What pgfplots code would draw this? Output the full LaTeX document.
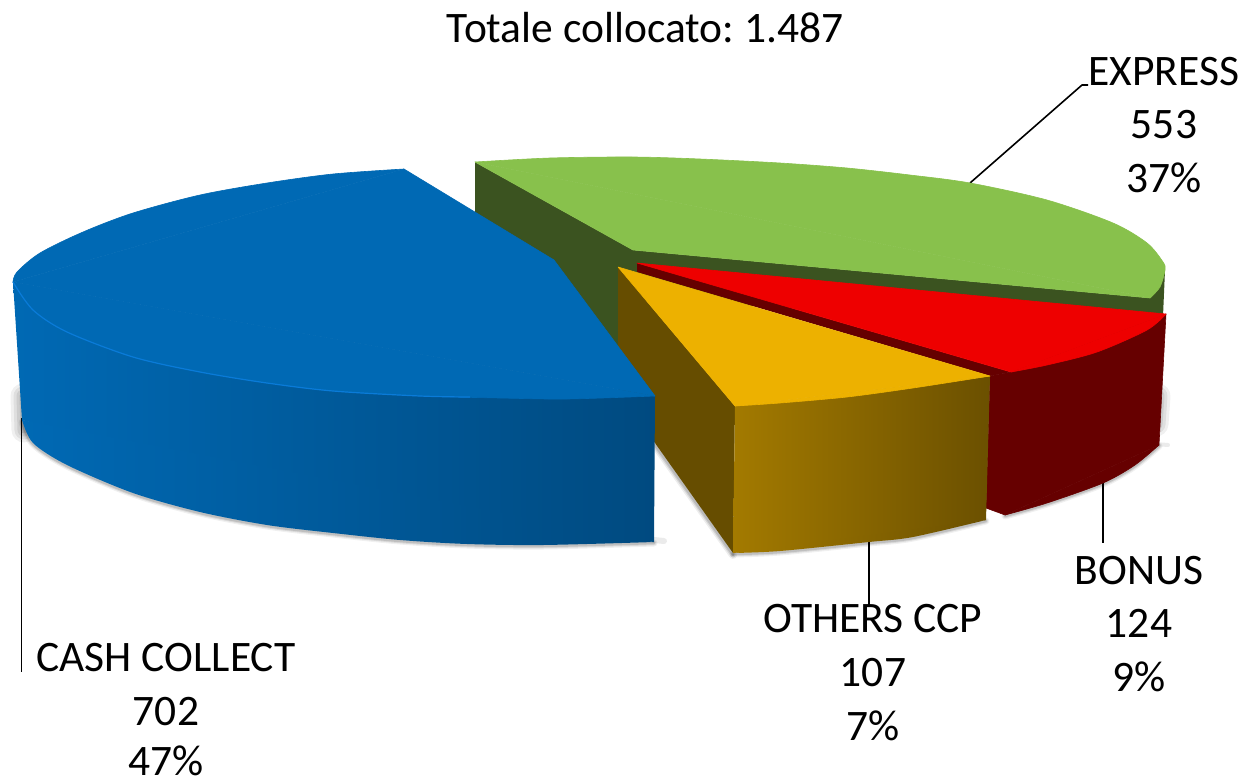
\documentclass[border=0pt]{standalone}
\usepackage{fontspec}
\setmainfont{Carlito}
\usepackage{pgfplots}
\usepackage{pgfplotstable}
\pgfplotsset{compat=1.18}
\frenchspacing
\definecolor{bluetop}{HTML}{0069B4}
\definecolor{bluemid}{HTML}{005FA5}
\definecolor{blueend}{HTML}{004A80}
\definecolor{bluehi}{HTML}{0A7BD8}
\definecolor{greentop}{HTML}{88C14C}
\definecolor{greenwall}{HTML}{3B5320}
\definecolor{redtop}{HTML}{EE0000}
\definecolor{redwall}{HTML}{660000}
\definecolor{yellowtop}{HTML}{EDB100}
\definecolor{yellowwall}{HTML}{664D00}
\definecolor{yellowfront}{HTML}{A37A00}
\definecolor{yellowend}{HTML}{6B5000}
\pgfplotstableread{
x y
22 422
33 444
67 466
133 494
200 513
267 526
333 534
400 541
467 545
543 546
654 543
}\blueshadow
\pgfplotstableread{
x y
733 554
780 552
869 543
913 538
986 521
}\yellowshadow
\pgfplotstableread{
x y
1005 516
1047 504
1103 484
1135 466
1159 446
}\redshadow
\pgfplotstableread{
x y
655 445
733 555
}\wedgeshadow
\pgfplotstableread{
x y
23 396
24 430
}\leftblob
\pgfplotstableread{
x y
1158 396
1156 424
}\rightblob
\pgfplotstableread{
x y
654 540
664 541
}\bluespur
\pgfplotstableread{
x y
1155 444
1168 445
}\redspur
\begin{document}
\begin{tikzpicture}
\begin{axis}[
  scale only axis, width=1243pt, height=782pt,
  xmin=0, xmax=1243, ymin=0, ymax=782, y dir=reverse,
  hide axis, clip=false, no markers,
  every axis plot/.append style={line join=round},
  nodes={font=\fontsize{43.5}{50}\selectfont, text=black, inner sep=0pt}
]
% page area
\addplot[fill=white, draw=none] coordinates {(0,0) (1243,0) (1243,782) (0,782)} --cycle;
% soft shadows
\addplot[black, opacity=0.06, line width=25pt, line cap=round] table {\leftblob};
\addplot[black, opacity=0.07, line width=19pt, line cap=round] table {\leftblob};
\addplot[black, opacity=0.08, line width=13pt, line cap=round] table {\leftblob};
\addplot[black, opacity=0.10, line width=7pt, line cap=round] table {\leftblob};
\addplot[black, opacity=0.06, line width=25pt, line cap=round] table {\rightblob};
\addplot[black, opacity=0.07, line width=19pt, line cap=round] table {\rightblob};
\addplot[black, opacity=0.08, line width=13pt, line cap=round] table {\rightblob};
\addplot[smooth, black, opacity=0.06, line width=7pt, line cap=round] table {\blueshadow};
\addplot[smooth, black, opacity=0.09, line width=4.5pt, line cap=round] table {\blueshadow};
\addplot[smooth, black, opacity=0.12, line width=2.5pt, line cap=round] table {\blueshadow};
\addplot[smooth, black, opacity=0.06, line width=7pt, line cap=round] table {\yellowshadow};
\addplot[smooth, black, opacity=0.09, line width=4.5pt, line cap=round] table {\yellowshadow};
\addplot[smooth, black, opacity=0.12, line width=2.5pt, line cap=round] table {\yellowshadow};
\addplot[smooth, black, opacity=0.06, line width=7pt, line cap=round] table {\redshadow};
\addplot[smooth, black, opacity=0.09, line width=4.5pt, line cap=round] table {\redshadow};
\addplot[smooth, black, opacity=0.12, line width=2.5pt, line cap=round] table {\redshadow};
\addplot[black, opacity=0.07, line width=8pt, line cap=round] table {\wedgeshadow};
\addplot[black, opacity=0.10, line width=5pt, line cap=round] table {\wedgeshadow};
\addplot[black, opacity=0.12, line width=2.5pt, line cap=round] table {\wedgeshadow};
\addplot[black, opacity=0.08, line width=6pt, line cap=round] table {\bluespur};
\addplot[black, opacity=0.08, line width=4pt, line cap=round] table {\redspur};
% leader lines
\addplot[black, line width=1.6pt] coordinates {(970,183) (1082,85) (1088,85)};
\addplot[black, line width=1.6pt] coordinates {(1103,483) (1103,543)};
\addplot[black, line width=1.6pt] coordinates {(869,540) (869,606)};
\addplot[black, line width=1.6pt] coordinates {(21.5,418) (21.5,672)};
% green walls
\addplot[fill=greenwall, draw=none] coordinates {
 (475,162) (475,220) (560,290) (620,350) (640,300) (1010,320) (1163,316) (1165,270) (1150,298) (633,250)} --cycle;
% green top
\addplot[fill=greentop, draw=greentop, line width=0.6pt] coordinates {(475,162) (1150,298) (633,250)} --cycle;
\addplot[smooth, fill=greentop, draw=greentop, line width=0.6pt] coordinates {
 (475,162) (550,158) (633,157) (700,159) (780,163) (847,168) (910,175) (970,183) (1047,200)
 (1113,223) (1147,243) (1163,262) (1165,270) (1160,287) (1150,298)};
% red outer wall
\addplot[fill=redwall, draw=redwall, line width=0.6pt] coordinates {
 (1166,314) (1011,372) (990,376) (986,508) (1005,515) (1159,445)} --cycle;
\addplot[smooth, fill=redwall, draw=redwall, line width=0.6pt] coordinates {
 (1005,515) (1047,503) (1103,483) (1135,465) (1159,445)};
% red inner strip
\addplot[fill=redwall, draw=none] coordinates {
 (637,263) (1011,372) (990,376) (637,272)} --cycle;
% red top
\addplot[fill=redtop, draw=redtop, line width=0.6pt] coordinates {(637,263) (1166,314) (1011,372)} --cycle;
\addplot[smooth, fill=redtop, draw=redtop, line width=0.6pt] coordinates {
 (1166,314) (1147,330) (1097,352) (1047,365) (1011,372)};
% yellow left wall
\addplot[fill=yellowwall, draw=none] coordinates {
 (618,267) (735,406) (733,553) (655,443) (618,395)} --cycle;
% yellow front wall
\addplot[shade, shading=axis, left color=yellowfront, right color=yellowend, draw=none] coordinates {
 (735,406) (990,376) (986,520) (860,541) (733,553)} --cycle;
\addplot[smooth, shade, shading=axis, left color=yellowfront, right color=yellowend, draw=none] coordinates {
 (733,553) (780,551) (869,542) (913,537) (986,520)};
% yellow top
\addplot[fill=yellowtop, draw=yellowtop, line width=0.6pt] coordinates {(618,267) (990,376) (735,406)} --cycle;
\addplot[smooth, fill=yellowtop, draw=yellowtop, line width=0.6pt] coordinates {
 (990,376) (913,388) (847,397) (780,403) (735,406)};
% blue wall
\addplot[shade, shading=axis, left color=bluetop, middle color=bluemid, right color=blueend, draw=none] coordinates {
 (13,282) (655,396) (654,542) (338,500) (22,420)} --cycle;
\addplot[smooth, shade, shading=axis, left color=bluetop, middle color=bluemid, right color=blueend, draw=none] coordinates {
 (22,420) (33,443) (67,465) (133,493) (200,512) (267,525) (333,533) (400,540) (467,544) (543,545) (654,542)};
% blue top
\addplot[fill=bluetop, draw=bluetop, line width=0.6pt] coordinates {(655,396) (554,260) (404,169) (13,282)} --cycle;
\addplot[smooth, fill=bluetop, draw=bluetop, line width=0.6pt] coordinates {
 (404,169) (333,174) (267,183) (200,195) (133,213) (83,232) (40,253) (17,272) (13,282)};
\addplot[smooth, fill=bluetop, draw=bluetop, line width=0.6pt] coordinates {
 (13,282) (33,310) (67,332) (133,357) (200,372) (267,383) (333,391) (420,396) (500,398) (567,399) (655,396)};
% blue highlight
\addplot[smooth, bluehi, line width=1.2pt] coordinates {
 (13,282) (33,310) (67,332) (133,357) (200,372) (267,383) (333,391) (420,396) (470,397)};
% texts
\node[anchor=base] at (axis cs:645,42) {Totale collocato: 1.487};
\node[anchor=base] at (axis cs:1164,85) {EXPRESS};
\node[anchor=base] at (axis cs:1164,138) {553};
\node[anchor=base] at (axis cs:1164,192) {37\%};
\node[anchor=base] at (axis cs:1139,584) {BONUS};
\node[anchor=base] at (axis cs:1139,637) {124};
\node[anchor=base] at (axis cs:1139,691) {9\%};
\node[anchor=base] at (axis cs:873,632) {OTHERS CCP};
\node[anchor=base] at (axis cs:873,686) {107};
\node[anchor=base] at (axis cs:873,740) {7\%};
\node[anchor=base] at (axis cs:166,671) {CASH COLLECT};
\node[anchor=base] at (axis cs:166,725) {702};
\node[anchor=base] at (axis cs:166,775) {47\%};
\end{axis}
\end{tikzpicture}
\end{document}
